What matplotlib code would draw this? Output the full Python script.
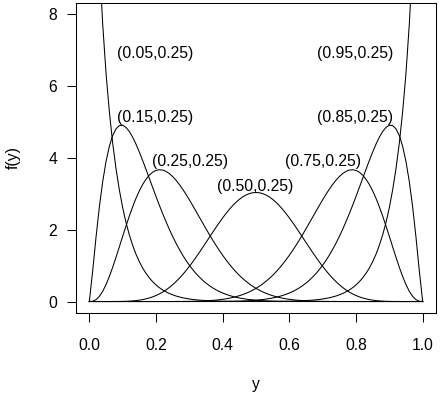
import math
import numpy as np
import matplotlib
matplotlib.use("Agg")
import matplotlib.pyplot as plt

plt.rcParams['font.family'] = ['Liberation Sans', 'DejaVu Sans']

# Beta distribution parameters (mu, sigma) as labelled in the chart
mus = [0.05, 0.15, 0.25, 0.50, 0.75, 0.85, 0.95]
sigmas = [0.25, 0.25, 0.25, 0.25, 0.25, 0.25, 0.25]
labels = ["(0.05,0.25)", "(0.15,0.25)", "(0.25,0.25)", "(0.50,0.25)",
          "(0.75,0.25)", "(0.85,0.25)", "(0.95,0.25)"]
label_x = [0.197, 0.196, 0.302, 0.498, 0.701, 0.797, 0.797]
label_y = [6.9, 5.12, 3.91, 3.21, 3.91, 5.12, 6.9]
x_ticks = [0.0, 0.2, 0.4, 0.6, 0.8, 1.0]
y_ticks = [0, 2, 4, 6, 8]


def beta_pdf(y, mu, sigma):
    s = 1.0 / sigma ** 2 - 1.0
    a, b = mu * s, (1 - mu) * s
    lb = math.lgamma(a) + math.lgamma(b) - math.lgamma(a + b)
    with np.errstate(divide='ignore', invalid='ignore'):
        out = np.exp((a - 1) * np.log(y) + (b - 1) * np.log1p(-y) - lb)
    return out


fig = plt.figure(figsize=(4.42, 3.94), dpi=100)
ax = fig.add_axes([76 / 442, 1 - 313 / 394, 360 / 442, 310 / 394])

yy = np.linspace(0, 1, 101)
for mu, sg in zip(mus, sigmas):
    f = beta_pdf(yy, mu, sg)
    f[~np.isfinite(f)] = np.nan
    ax.plot(yy, f, color='black', lw=0.75)

for t, lx, ly in zip(labels, label_x, label_y):
    ax.text(lx, ly, t, ha='center', va='center', fontsize=11.3)

ax.set_xlim(-0.04, 1.04)
ax.set_ylim(-0.32, 8.32)
ax.set_xticks(x_ticks)
ax.set_xticklabels([f"{v:.1f}" for v in x_ticks])
ax.set_yticks(y_ticks)
ax.set_yticklabels([str(v) for v in y_ticks])
ax.tick_params(direction='out', length=6.5, width=0.75, labelsize=11.3)
ax.tick_params(axis='x', pad=11.5)
ax.tick_params(axis='y', pad=7)
for sp in ax.spines.values():
    sp.set_linewidth(0.75)
ax.set_xlabel('y', fontsize=11.3, labelpad=17)
ax.set_ylabel('f(y)', fontsize=11.3, labelpad=20)

fig.savefig('out.png', dpi=100)
